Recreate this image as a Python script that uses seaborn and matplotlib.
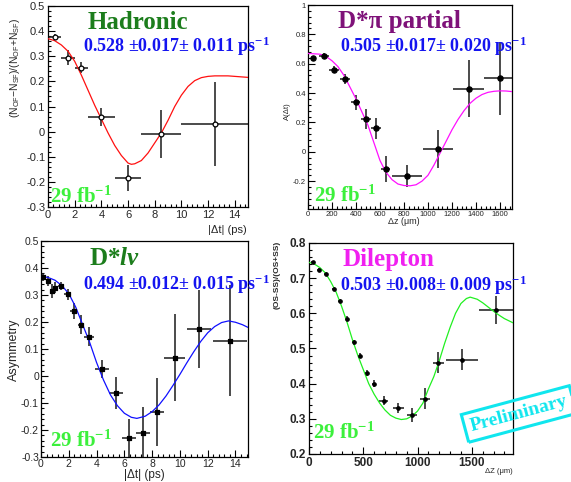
import numpy as np
import matplotlib
matplotlib.use("Agg")
import matplotlib.pyplot as plt
from matplotlib.ticker import MultipleLocator, AutoMinorLocator, FuncFormatter
import seaborn as sns

# --- Hadronic ---
had_x = [0.5, 1.5, 2.5, 4.0, 6.0, 8.5, 12.5]
had_y = [0.375, 0.295, 0.255, 0.060, -0.185, -0.010, 0.030]
had_xerr = [0.5, 0.5, 0.5, 1.0, 1.0, 1.5, 2.5]
had_yerr = [0.012, 0.030, 0.022, 0.036, 0.052, 0.095, 0.168]
had_fit_x = [0, 0.5, 1, 1.5, 2, 2.5, 3, 3.5, 4, 4.5, 5, 5.5, 6, 6.25, 6.5, 7, 7.5, 8,
             8.5, 9, 9.5, 10, 10.5, 11, 11.5, 12, 12.5, 13, 13.5, 14, 14.5, 15]
had_fit_y = [0.370, 0.362, 0.345, 0.320, 0.280, 0.225, 0.165, 0.105, 0.050, -0.005,
             -0.055, -0.095, -0.125, -0.130, -0.128, -0.115, -0.085, -0.045, -0.005,
             0.045, 0.100, 0.145, 0.180, 0.203, 0.215, 0.220, 0.222, 0.222, 0.222,
             0.220, 0.218, 0.216]

# --- D*pi partial ---
dpi_x = [45, 133, 218, 309, 397, 482, 565, 647, 823, 1084, 1339, 1600]
dpi_y = [0.636, 0.655, 0.560, 0.495, 0.336, 0.223, 0.161, -0.116, -0.164, 0.018, 0.430, 0.500]
dpi_xerr = [20, 40, 40, 40, 40, 40, 40, 40, 125, 128, 128, 130]
dpi_yerr = [0.015, 0.015, 0.025, 0.032, 0.050, 0.065, 0.072, 0.090, 0.075, 0.130, 0.195, 0.250]
dpi_fit_x = [0, 100, 150, 200, 250, 300, 350, 400, 450, 500, 550, 600, 650, 700, 750, 800,
             850, 900, 950, 1000, 1050, 1100, 1150, 1200, 1250, 1300, 1350, 1400, 1450,
             1500, 1550, 1600, 1650, 1700]
dpi_fit_y = [0.670, 0.665, 0.650, 0.620, 0.580, 0.520, 0.440, 0.360, 0.270, 0.180, 0.060,
             -0.060, -0.140, -0.190, -0.220, -0.230, -0.232, -0.225, -0.200, -0.160,
             -0.090, -0.010, 0.070, 0.150, 0.220, 0.280, 0.330, 0.365, 0.390, 0.405,
             0.412, 0.415, 0.414, 0.410]

# --- D*lnu ---
dln_x = [0.17, 0.53, 0.77, 1.0, 1.44, 1.92, 2.37, 2.88, 3.48, 4.36, 5.37, 6.35, 7.36,
         8.37, 9.64, 11.39, 13.6]
dln_y = [0.366, 0.352, 0.315, 0.327, 0.334, 0.302, 0.241, 0.190, 0.146, 0.026, -0.063,
         -0.231, -0.210, -0.134, 0.068, 0.175, 0.131]
dln_xerr = [0.12, 0.12, 0.12, 0.12, 0.25, 0.25, 0.25, 0.25, 0.35, 0.5, 0.5, 0.5, 0.5,
            0.5, 0.75, 0.85, 1.25]
dln_yerr = [0.015, 0.02, 0.025, 0.02, 0.015, 0.02, 0.03, 0.035, 0.035, 0.035, 0.06,
            0.07, 0.095, 0.125, 0.16, 0.145, 0.205]
dln_fit_x = [0, 0.5, 1, 1.5, 2, 2.5, 3, 3.5, 4, 4.5, 5, 5.5, 6, 6.5, 6.9, 7.5, 8, 8.5,
             9, 9.5, 10, 10.5, 11, 11.5, 12, 12.5, 13, 13.5, 14, 14.5, 14.9]
dln_fit_y = [0.370, 0.365, 0.355, 0.335, 0.305, 0.255, 0.190, 0.125, 0.050, -0.015,
             -0.070, -0.110, -0.138, -0.153, -0.157, -0.149, -0.132, -0.107, -0.074,
             -0.035, 0.006, 0.049, 0.090, 0.128, 0.160, 0.183, 0.198, 0.204, 0.199,
             0.190, 0.180]

# --- Dilepton ---
dil_x = [37, 92, 160, 228, 287, 348, 410, 471, 536, 595, 687, 823, 946, 1069, 1193,
         1408, 1723]
dil_y = [0.745, 0.723, 0.713, 0.669, 0.634, 0.584, 0.518, 0.480, 0.430, 0.400, 0.352,
         0.331, 0.312, 0.357, 0.460, 0.468, 0.610]
dil_xerr = [18, 18, 18, 18, 18, 18, 18, 18, 18, 18, 45, 50, 45, 50, 55, 145, 155]
dil_yerr = [0.005, 0.005, 0.005, 0.006, 0.006, 0.007, 0.007, 0.008, 0.008, 0.01, 0.012,
            0.015, 0.02, 0.03, 0.03, 0.03, 0.04]
dil_fit_x = [0, 50, 100, 150, 200, 250, 300, 350, 400, 450, 500, 550, 600, 650, 700, 750,
             800, 850, 900, 950, 1000, 1050, 1100, 1150, 1200, 1250, 1300, 1350, 1400,
             1450, 1485, 1550, 1600, 1650, 1700, 1750, 1800, 1880]
dil_fit_y = [0.745, 0.740, 0.730, 0.715, 0.690, 0.660, 0.620, 0.575, 0.525, 0.480,
             0.440, 0.400, 0.370, 0.345, 0.325, 0.310, 0.302, 0.298, 0.300, 0.308,
             0.322, 0.345, 0.385, 0.420, 0.465, 0.515, 0.560, 0.600, 0.628, 0.642,
             0.646, 0.640, 0.630, 0.618, 0.606, 0.595, 0.585, 0.573]

sns.set_style("ticks")
plt.rcParams["font.family"] = ["Liberation Sans", "DejaVu Sans"]
plt.rcParams["axes.unicode_minus"] = False
plt.rcParams["mathtext.fontset"] = "custom"
plt.rcParams["mathtext.rm"] = "Liberation Serif:bold"
plt.rcParams["mathtext.bf"] = "Liberation Serif:bold"
plt.rcParams["mathtext.it"] = "Liberation Serif:italic:bold"
plt.rcParams["mathtext.sf"] = "Liberation Sans"

SERIF = ["Liberation Serif", "DejaVu Serif"]
BLUE = "#1414f0"
DKGREEN = "#1c7d1c"
LUMI = "#3cf03c"
ERRC = "#1a1a1a"

fig = plt.figure(figsize=(5.71, 4.82), dpi=100)
ax1 = fig.add_axes([0.0841, 0.5705, 0.3503, 0.4170])
ax2 = fig.add_axes([0.5394, 0.5664, 0.3573, 0.4232])
ax3 = fig.add_axes([0.0718, 0.0519, 0.3625, 0.4481])
ax4 = fig.add_axes([0.5412, 0.0581, 0.3573, 0.4378])

fmt = FuncFormatter(lambda v, p: f"{round(v, 3) + 0.0:g}")


def style_axis(ax, xlim, ylim, xmaj, ymaj, size, weight="normal", pad=2):
    ax.set_xlim(*xlim)
    ax.set_ylim(*ylim)
    ax.xaxis.set_major_locator(MultipleLocator(xmaj))
    ax.yaxis.set_major_locator(MultipleLocator(ymaj))
    ax.xaxis.set_minor_locator(AutoMinorLocator(5))
    ax.yaxis.set_minor_locator(AutoMinorLocator(5))
    ax.xaxis.set_major_formatter(fmt)
    ax.yaxis.set_major_formatter(fmt)
    ax.tick_params(which="both", direction="in", top=False, right=False,
                   labelsize=size, pad=pad, width=0.8, color="black")
    ax.tick_params(which="major", length=5)
    ax.tick_params(which="minor", length=2.5)
    for lab in ax.get_xticklabels() + ax.get_yticklabels():
        lab.set_fontweight(weight)
    for sp in ax.spines.values():
        sp.set_visible(True)
        sp.set_linewidth(0.9)
        sp.set_color("black")
    ax.set_xlabel("")
    ax.set_ylabel("")


def draw(ax, x, y, xerr, yerr, fx, fy, fcolor, marker, msize, face, elw):
    ax.errorbar(x, y, xerr=xerr, yerr=yerr, fmt="none", ecolor=ERRC,
                elinewidth=elw, capsize=0, zorder=2)
    sns.lineplot(x=fx, y=fy, color=fcolor, linewidth=0.9, ax=ax, zorder=3)
    sns.scatterplot(x=x, y=y, marker=marker, s=msize, color=face,
                    edgecolor="black", linewidth=0.9, ax=ax, zorder=4)


def labels(ax, title, tcolor, tx, value, vx, lx, ly, tsize=18):
    ax.text(tx, 0.92, title, transform=ax.transAxes, ha="center", va="center",
            fontsize=tsize, fontweight="bold", color=tcolor, family=SERIF)
    ax.text(vx, 0.80, value + r" ps$^{\mathbf{-1}}$", transform=ax.transAxes,
            ha="left", va="center", fontsize=13, fontweight="bold", color=BLUE,
            family=SERIF, clip_on=False)
    ax.text(lx, ly, r"29 fb$^{\mathbf{-1}}$", transform=ax.transAxes, ha="left",
            va="baseline", fontsize=15, fontweight="bold", color=LUMI, family=SERIF)


# Hadronic
draw(ax1, had_x, had_y, had_xerr, had_yerr, had_fit_x, had_fit_y, "#ff1010",
     "o", 12, "white", 1.1)
style_axis(ax1, (0, 15), (-0.3, 0.5), 2, 0.1, 8)
labels(ax1, "Hadronic", DKGREEN, 0.45, "0.528 \u00b10.017\u00b1 0.011", 0.175, 0.01, 0.02)
ax1.text(-0.165, 0.94,
         "(N$_{\\mathsf{OF}}$\u2212N$_{\\mathsf{SF}}$)/(N$_{\\mathsf{OF}}$+N$_{\\mathsf{SF}}$)",
         transform=ax1.transAxes, rotation=90, ha="center", va="top", fontsize=7.5)
ax1.text(0.995, -0.115, "|\u0394t| (ps)", transform=ax1.transAxes, ha="right",
         va="center", fontsize=8)

# D*pi partial
draw(ax2, dpi_x, dpi_y, dpi_xerr, dpi_yerr, dpi_fit_x, dpi_fit_y, "#ff10ff",
     "o", 14, "black", 1.1)
style_axis(ax2, (0, 1700), (-0.39, 1.0), 200, 0.2, 5.5, pad=1.5)
labels(ax2, "D*\u03c0 partial", "#7f1279", 0.45, "0.505 \u00b10.017\u00b1 0.020", 0.157, 0.03, 0.036)
ax2.text(-0.1, 0.48, "A(\u0394t)", transform=ax2.transAxes, rotation=90,
         ha="center", va="center", fontsize=5.5)
ax2.text(0.47, -0.062, "\u0394z (\u03bcm)", transform=ax2.transAxes, ha="center",
         va="center", fontsize=6.5)

# D*lnu
draw(ax3, dln_x, dln_y, dln_xerr, dln_yerr, dln_fit_x, dln_fit_y, "#1010ff",
     "s", 5, "black", 1.1)
style_axis(ax3, (0, 14.9), (-0.3, 0.5), 2, 0.1, 7.5, pad=1.5)
labels(ax3, r"D*$l\nu$", DKGREEN, 0.357, "0.494 \u00b10.012\u00b1 0.015", 0.203, 0.043, 0.048)
ax3.text(-0.13, 0.495, "Asymmetry", transform=ax3.transAxes, rotation=90,
         ha="center", va="center", fontsize=9)
ax3.text(0.5, -0.085, "|\u0394t| (ps)", transform=ax3.transAxes, ha="center",
         va="center", fontsize=8.5)

# Dilepton
draw(ax4, dil_x, dil_y, dil_xerr, dil_yerr, dil_fit_x, dil_fit_y, "#20f020",
     "o", 6, "black", 1.1)
style_axis(ax4, (0, 1880), (0.2, 0.8), 500, 0.1, 8.5, weight="bold")
labels(ax4, "Dilepton", "#f020f0", 0.39, "0.503 \u00b10.008\u00b1 0.009", 0.152, 0.02, 0.071)
ax4.text(-0.157, 0.85, "(OS-SS)/(OS+SS)", transform=ax4.transAxes, rotation=90,
         ha="center", va="center", fontsize=6, fontweight="bold")
ax4.text(1.0, -0.085, "\u0394Z (\u03bcm)", transform=ax4.transAxes, ha="right",
         va="center", fontsize=5.5)

fig.text(519 / 571, 1 - 414 / 482, "Preliminary", rotation=15, ha="center",
         va="center", fontsize=14, fontweight="bold", color="#10e6ee", family=SERIF,
         bbox=dict(boxstyle="square,pad=0.3", facecolor="none", edgecolor="#10e6ee",
                   linewidth=2.2))

fig.savefig("out.png", dpi=100)
